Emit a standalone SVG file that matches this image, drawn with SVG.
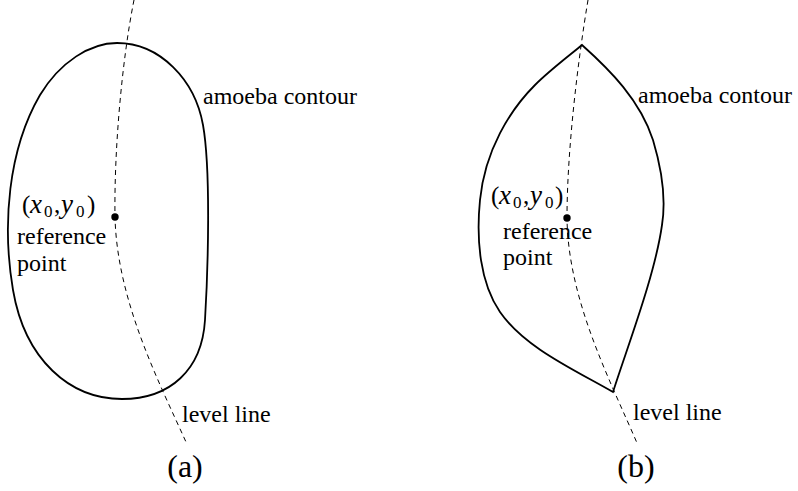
<svg xmlns="http://www.w3.org/2000/svg" width="798" height="491" viewBox="0 0 798 491">
<style>
.contour{fill:none;stroke:#000;stroke-width:1.8;stroke-linejoin:miter}
.level{fill:none;stroke:#000;stroke-width:1;stroke-dasharray:5,4}
text{font-family:'Liberation Serif','Times New Roman',serif;fill:#000}
.lbl{font-size:24px}
.math{font-size:25px}
.it{font-style:italic}
.sub{font-size:17px}
.cap{font-size:32px}
</style>
<rect width="798" height="491" fill="#fff"/>
<g id="panel-a">
  <g id="contour-a">
    <path class="contour" d="M117,43 C160,43 195,80 203,125 C211,170 208,270 205,320 C202,370 170,399 122,399 C70,399 25,360 13,290 C2,225 8,150 40,95 C60,62 90,43 117,43 Z"/>
  </g>
  <g id="refpoint-a">
    <circle cx="115" cy="217" r="3.7" fill="#000"/>
    <text class="math" y="213"><tspan x="22">(</tspan><tspan class="it" x="30" font-size="27">x</tspan><tspan class="sub" x="44" dy="4">0</tspan><tspan x="54" dy="-4">,</tspan><tspan class="it" x="61" font-size="27">y</tspan><tspan class="sub" x="76" dy="4">0</tspan><tspan x="87" dy="-4">)</tspan></text>
    <text class="lbl" x="17" y="244">reference</text>
    <text class="lbl" x="17" y="271">point</text>
  </g>
  <text id="label-contour-a" class="lbl" x="203" y="104">amoeba contour</text>
  <text id="label-level-a" class="lbl" x="182" y="422">level line</text>
  <text id="caption-a" class="cap" x="185" y="477" text-anchor="middle">(a)</text>
</g>
<g id="panel-b">
  <g id="contour-b">
    <path class="contour" d="M582,45 C610,70 640,100 653,140 C662,170 666,200 662,225 C655,275 628,345 613,392 C575,370 525,348 500,312 C480,283 476,240 480,200 C485,150 510,110 535,85 C550,70 570,55 582,45 Z"/>
  </g>
  <g id="refpoint-b">
    <circle cx="567" cy="218" r="3.7" fill="#000"/>
    <text class="math" y="204"><tspan x="491">(</tspan><tspan class="it" x="499" font-size="27">x</tspan><tspan class="sub" x="513" dy="4">0</tspan><tspan x="523" dy="-4">,</tspan><tspan class="it" x="530" font-size="27">y</tspan><tspan class="sub" x="545" dy="4">0</tspan><tspan x="555" dy="-4">)</tspan></text>
    <text class="lbl" x="503" y="239">reference</text>
    <text class="lbl" x="503" y="265">point</text>
  </g>
  <text id="label-contour-b" class="lbl" x="638" y="103">amoeba contour</text>
  <text id="label-level-b" class="lbl" x="633" y="420">level line</text>
  <text id="caption-b" class="cap" x="636" y="477" text-anchor="middle">(b)</text>
</g>
<g id="connectors">
  <path id="level-line-a" class="level" d="M134,0 C122,60 114,150 115,217 C117,300 158,380 186,442"/>
  <path id="level-line-b" class="level" d="M588,0 C578,60 567,150 567,218 C568,300 610,380 637,443"/>
</g>
</svg>
